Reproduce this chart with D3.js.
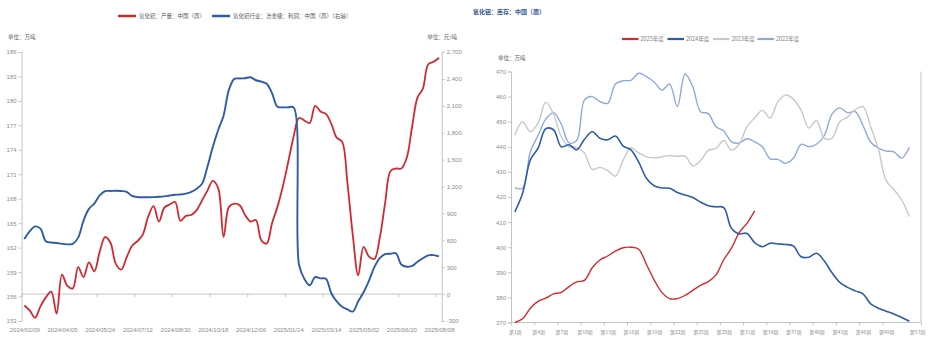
<!DOCTYPE html>
<html>
<head>
<meta charset="utf-8">
<script src="https://cdn.jsdelivr.net/npm/d3@7"></script>
<style>
  html, body { margin: 0; padding: 0; background: #fff; }
  svg { display: block; }
  .num { font-family: "Liberation Sans", Arial, sans-serif; }
  .cjk { font-family: "Noto Sans CJK SC", "Noto Sans", sans-serif; }
</style>
</head>
<body>
<svg id="chart" width="933" height="347"></svg>
<script>
// ---------- Left panel: weekly alumina output vs. smelter-grade profit ----------
const prodDateTicks = ["2024/02/09", "2024/04/05", "2024/05/24", "2024/07/12", "2024/08/30", "2024/10/18",
  "2024/12/06", "2025/01/24", "2025/03/14", "2025/05/02", "2025/06/20", "2025/08/08"];

// Output, 10k tonnes (left axis), one value per week
const outputWeekly = [
  154.9, 154.3, 153.4, 154.8, 155.9, 156.6, 153.9, 158.7, 157.3, 157.0,
  159.6, 158.4, 160.2, 159.1, 161.5, 163.3, 162.6, 160.0, 159.3, 160.8,
  162.2, 162.8, 163.6, 165.8, 167.1, 165.2, 166.9, 167.3, 167.6, 165.3,
  165.9, 166.0, 166.6, 167.8, 169.0, 170.2, 169.3, 163.3, 167.0, 167.4,
  167.2, 166.0, 165.2, 165.4, 162.9, 162.5, 165.0, 167.0, 169.5, 172.5,
  175.6, 177.9, 177.6, 177.3, 179.4, 178.7, 178.4, 177.2, 175.5, 175.0,
  169.9, 163.5, 158.6, 162.1, 160.9, 160.6, 163.2, 167.5, 171.4, 171.7,
  171.7, 173.0, 176.8, 180.4, 181.5, 184.5, 184.8, 185.3
];

// Profit, yuan/tonne (right axis), one value per week
const profitWeekly = [
  614, 700, 755, 730, 590, 575, 570, 560, 555, 560,
  630, 820, 950, 1010, 1100, 1148, 1150, 1152, 1150, 1140,
  1095, 1082, 1080, 1080, 1082, 1085, 1090, 1100, 1108, 1110,
  1120, 1140, 1175, 1230, 1420, 1640, 1830, 1990, 2280, 2400,
  2405, 2408, 2418, 2385, 2370, 2345, 2240, 2090, 2083, 2083,
  2083, 330, 170, 98, 190, 176, 170, 10, -80, -140,
  -170, -195, -80, 20, 150, 300, 400, 445, 450, 455,
  330, 305, 315, 360, 400, 432, 435, 420
];

const leftTicks = [153, 156, 159, 162, 165, 168, 171, 174, 177, 180, 183, 186];
const rightTicks = [-300, 0, 300, 600, 900, 1200, 1500, 1800, 2100, 2400, 2700];

// ---------- Right panel: weekly alumina inventory by year ----------
const invYears = ["2025年度", "2024年度", "2023年度", "2022年度"];
const inv2025 = [
  370.0, 371.5, 375.7, 378.4, 379.7, 381.4, 382.0, 384.3, 386.2, 386.8,
  391.8, 394.9, 396.5, 398.4, 399.8, 400.0, 399.2, 393.2, 387.0, 382.0,
  379.5, 379.5, 380.8, 382.8, 384.8, 386.3, 389.0, 395.0, 399.6, 405.8,
  409.5, 414.5
];
const inv2024 = [
  414.1, 421.5, 434.8, 439.5, 447.2, 446.8, 440.0, 440.8, 438.8, 443.0,
  446.0, 443.4, 442.8, 444.3, 440.3, 438.8, 434.0, 427.5, 424.5, 423.6,
  423.5, 421.8, 420.8, 419.8, 418.0, 416.5, 416.1, 415.8, 407.5, 405.3,
  405.5, 401.8, 400.2, 401.6, 401.3, 401.1, 400.5, 396.2, 396.0, 397.6,
  394.5, 389.8, 386.0, 384.0, 382.6, 381.4, 377.4, 375.7, 374.5, 373.4,
  372.0, 370.5
];
const inv2023 = [
  444.7, 450.0, 446.0, 449.5, 457.8, 453.0, 444.0, 440.0, 439.8, 437.5,
  431.0, 431.8, 430.5, 428.3, 434.7, 439.6, 437.6, 436.0, 435.6, 436.0,
  436.5, 436.2, 436.3, 432.4, 434.5, 438.6, 439.4, 442.5, 438.7, 441.0,
  448.0, 451.5, 454.5, 451.5, 458.0, 460.6, 459.0, 454.5, 447.5, 450.5,
  443.4, 443.4, 450.0, 451.8, 454.8, 456.0, 448.0, 439.0, 426.5, 423.0,
  418.8, 412.2
];
const inv2022 = [
  423.7, 423.5, 438.0, 444.5, 451.0, 453.6, 449.0, 441.6, 442.5, 458.7,
  460.0, 458.0, 457.3, 465.0, 466.3, 466.5, 469.3, 468.0, 465.8, 462.6,
  465.0, 456.0, 469.0, 463.9, 454.0, 453.2, 448.0, 446.3, 442.0, 441.5,
  443.2, 442.0, 440.0, 435.2, 435.0, 433.4, 435.4, 441.0, 440.0, 441.0,
  444.5, 453.0, 455.5, 453.6, 454.0, 448.5, 441.8, 439.5, 438.3, 438.0,
  435.5, 439.8
];
const weekTicks = [1, 4, 7, 10, 13, 16, 19, 22, 25, 28, 31, 34, 37, 40, 43, 46, 49, 53];
const invTicks = [370, 380, 390, 400, 410, 420, 430, 440, 450, 460, 470];

// ---------- styling ----------
const RED = "#d3292e", BLUE = "#2f5ca6", GRAY = "#c8c8c8", LBLUE = "#8eaad9";
const AXIS = "#c4c4c4", TXT = "#8c8c8c";

const svg = d3.select("#chart");
const smooth = d3.curveCatmullRom.alpha(0.5);

function styleAxis(g, fontSize) {
  g.select(".domain").attr("stroke", AXIS);
  g.selectAll(".tick line").attr("stroke", AXIS);
  g.selectAll(".tick text").attr("fill", TXT).attr("font-size", fontSize).attr("class", "num");
}

// ===== Left panel =====
const nWeeks = outputWeekly.length;
const xL = d3.scalePoint().domain(d3.range(nWeeks)).range([21.6, 441.7]).padding(0.5);
const stepL = xL.step();
const yL = d3.scaleLinear().domain([153, 186]).range([321, 52]);
const yR = d3.scaleLinear().domain([-300, 2700]).range([321, 52]);
const tickIdxL = prodDateTicks.map((_, k) => k * 7);

const gL = svg.append("g");

// left value axis
gL.append("g").attr("transform", `translate(${xL.range()[0]},0)`)
  .call(d3.axisLeft(yL).tickValues(leftTicks).tickSize(3).tickPadding(2))
  .call(g => styleAxis(g, 6));

// right value axis
gL.append("g").attr("transform", `translate(${xL.range()[1]},0)`)
  .call(d3.axisRight(yR).tickValues(rightTicks).tickSize(3).tickPadding(2)
    .tickFormat(v => d3.format(",")(v).replace("−", "-")))
  .call(g => styleAxis(g, 6));

// category axis line through zero of the right scale, tick marks at week boundaries
const zeroAxis = gL.append("g").attr("transform", `translate(0,${yR(0)})`)
  .call(d3.axisBottom(xL).tickValues(tickIdxL).tickSize(3).tickFormat(""));
zeroAxis.select(".domain").attr("d", `M${xL.range()[0]},0H${xL.range()[1]}`);
zeroAxis.selectAll(".tick").attr("transform", i => `translate(${xL(i) - stepL / 2},0)`);
styleAxis(zeroAxis, 6);

// date labels along the bottom of the plot
const dateAxis = gL.append("g").attr("transform", `translate(0,${yL(153)})`)
  .call(d3.axisBottom(xL).tickValues(tickIdxL).tickSize(0).tickPadding(7)
    .tickFormat((i, k) => prodDateTicks[k]));
dateAxis.select(".domain").remove();
styleAxis(dateAxis, 6);

// series
gL.append("path").datum(outputWeekly)
  .attr("fill", "none").attr("stroke", RED).attr("stroke-width", 1.8)
  .attr("d", d3.line().x((d, i) => xL(i)).y(d => yL(d)).curve(smooth));
gL.append("path").datum(profitWeekly)
  .attr("fill", "none").attr("stroke", BLUE).attr("stroke-width", 1.9)
  .attr("d", d3.line().x((d, i) => xL(i)).y(d => yR(d)).curve(smooth));

// unit captions
gL.append("text").attr("class", "cjk").attr("x", 8).attr("y", 38.5)
  .attr("font-size", 5.5).attr("fill", "#595959").text("单位：万吨");
gL.append("text").attr("class", "cjk").attr("x", 457).attr("y", 38.5).attr("text-anchor", "end")
  .attr("font-size", 5.5).attr("fill", "#595959").text("单位：元/吨");

// legend
const legL = [
  { name: "氧化铝：产量：中国（周）", color: RED, x: 118 },
  { name: "氧化铝行业：冶金级：利润：中国（周）（右轴）", color: BLUE, x: 212 }
];
legL.forEach(e => {
  gL.append("line").attr("x1", e.x).attr("x2", e.x + 18).attr("y1", 16).attr("y2", 16)
    .attr("stroke", e.color).attr("stroke-width", 2.5);
  gL.append("text").attr("class", "cjk").attr("x", e.x + 21).attr("y", 18)
    .attr("font-size", 5.5).attr("fill", "#595959").text(e.name);
});

// ===== Right panel =====
const weeks = d3.range(1, 54);
const xW = d3.scalePoint().domain(weeks).range([511, 921]).padding(0.5);
const stepW = xW.step();
const yW = d3.scaleLinear().domain([370, 470]).range([322.5, 71.5]);

const gR = svg.append("g");

gR.append("text").attr("class", "cjk").attr("x", 473).attr("y", 14)
  .attr("font-size", 6).attr("font-weight", "bold").attr("fill", "#2f5597")
  .text("氧化铝：库存：中国（周）");

gR.append("text").attr("class", "cjk").attr("x", 498).attr("y", 59.5)
  .attr("font-size", 5.5).attr("fill", "#595959").text("单位：万吨");

// value axis
gR.append("g").attr("transform", `translate(${xW.range()[0]},0)`)
  .call(d3.axisLeft(yW).tickValues(invTicks).tickSize(3).tickPadding(2))
  .call(g => styleAxis(g, 6));

// right frame line
gR.append("line").attr("x1", xW.range()[1]).attr("x2", xW.range()[1])
  .attr("y1", yW(470)).attr("y2", yW(370)).attr("stroke", AXIS);

// week axis: marks at band boundaries, labels centred on the weeks
const weekAxis = gR.append("g").attr("transform", `translate(0,${yW(370)})`)
  .call(d3.axisBottom(xW).tickValues(weekTicks).tickSize(3).tickPadding(5)
    .tickFormat(w => `第${w}周`));
weekAxis.select(".domain").attr("d", `M${xW.range()[0]},0H${xW.range()[1]}`);
weekAxis.selectAll(".tick line").attr("x1", -stepW / 2).attr("x2", -stepW / 2);
weekAxis.selectAll(".tick").filter(w => w === 53).select("line")
  .attr("x1", stepW / 2).attr("x2", stepW / 2);
styleAxis(weekAxis, 5);
weekAxis.selectAll(".tick text").attr("class", "cjk");

const invSeries = [
  { name: invYears[3], values: inv2022, color: LBLUE, w: 1.4 },
  { name: invYears[2], values: inv2023, color: GRAY, w: 1.4 },
  { name: invYears[1], values: inv2024, color: BLUE, w: 1.6 },
  { name: invYears[0], values: inv2025, color: RED, w: 1.4 }
];
const weekLine = d3.line().x((d, i) => xW(i + 1)).y(d => yW(d)).curve(smooth);
invSeries.forEach(s => {
  gR.append("path").datum(s.values).attr("fill", "none")
    .attr("stroke", s.color).attr("stroke-width", s.w).attr("d", weekLine);
});

// legend
const legR = [
  { name: invYears[0], color: RED, x: 622 },
  { name: invYears[1], color: BLUE, x: 667.5 },
  { name: invYears[2], color: GRAY, x: 713 },
  { name: invYears[3], color: LBLUE, x: 757.5 }
];
legR.forEach(e => {
  gR.append("line").attr("x1", e.x).attr("x2", e.x + 16.5).attr("y1", 39).attr("y2", 39)
    .attr("stroke", e.color).attr("stroke-width", 2.2);
  gR.append("text").attr("class", "cjk").attr("x", e.x + 18.5).attr("y", 41)
    .attr("font-size", 5.5).attr("fill", "#7f7f7f").text(e.name);
});
</script>
</body>
</html>
